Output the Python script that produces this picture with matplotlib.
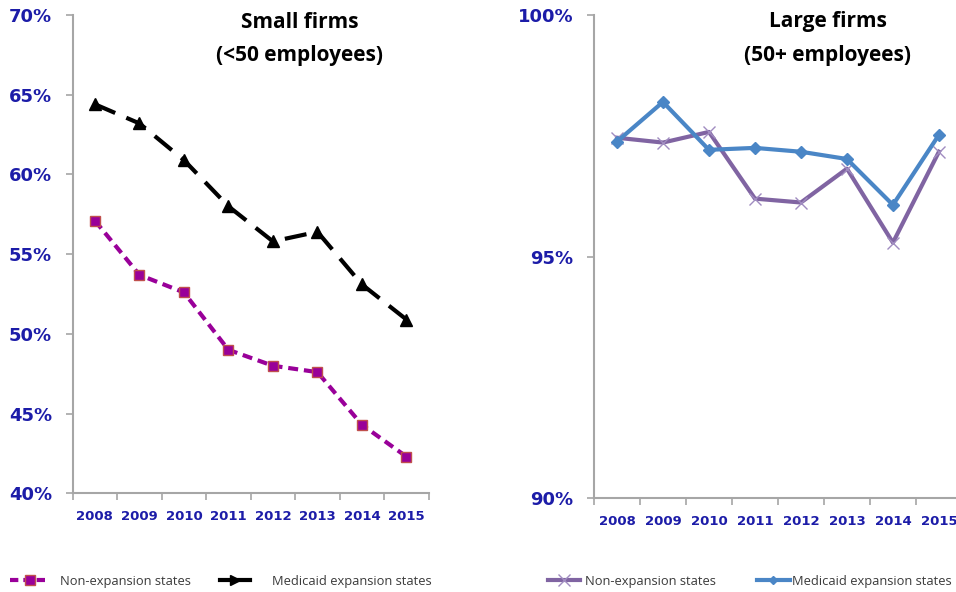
import matplotlib.pyplot as plt
import numpy as np
from matplotlib.lines import Line2D
from matplotlib.ticker import FuncFormatter

# Data
years = ['2008', '2009', '2010', '2011', '2012', '2013', '2014', '2015']
small_non = [57.1, 53.7, 52.6, 49.0, 48.0, 47.6, 44.3, 42.3]
small_exp = [64.4, 63.2, 60.9, 58.0, 55.8, 56.4, 53.1, 50.9]
large_non = [97.46, 97.36, 97.58, 96.20, 96.12, 96.82, 95.29, 97.17]
large_exp = [97.38, 98.20, 97.21, 97.25, 97.17, 97.02, 96.07, 97.52]

tick_blue = '#1c1ca8'
axis_grey = '#a6a6a6'

fig = plt.figure(figsize=(9.56, 5.92), dpi=100)
ax1 = fig.add_axes([0.0760, 0.1667, 0.3724, 0.808])
ax2 = fig.add_axes([0.6213, 0.1583, 0.3849, 0.8164])

x = np.arange(len(years))


def style_axis(ax, ylo, yhi, step):
    ax.set_xlim(-0.5, len(years) - 0.5)
    ax.set_ylim(ylo, yhi)
    ax.set_yticks(np.arange(ylo, yhi + 0.01, step))
    ax.yaxis.set_major_formatter(FuncFormatter(lambda v, p: '%d%%' % round(v)))
    ax.set_xticks(x)
    ax.set_xticklabels(years)
    ax.set_xticks(np.arange(-0.5, len(years), 1.0), minor=True)
    ax.tick_params(axis='x', which='major', length=0, pad=12,
                   labelsize=9.5, labelcolor=tick_blue)
    ax.tick_params(axis='x', which='minor', length=5, color=axis_grey, width=1.2)
    ax.tick_params(axis='y', length=5, color=axis_grey, width=1.2, pad=10,
                   labelsize=13, labelcolor=tick_blue)
    for lab in ax.get_xticklabels() + ax.get_yticklabels():
        lab.set_fontweight('bold')
    for s in ['top', 'right']:
        ax.spines[s].set_visible(False)
    for s in ['left', 'bottom']:
        ax.spines[s].set_color(axis_grey)
        ax.spines[s].set_linewidth(1.5)


# Small firms
ax1.plot(x, small_non, color='#990099', lw=3, ls=(0, (2.4, 1.4)),
         marker='s', ms=7, mfc='#990099', mec='#c0504d', mew=1, clip_on=False)
ax1.plot(x, small_exp, color='black', lw=3, ls=(0, (5.3, 2.9)),
         marker='^', ms=8, mfc='black', mec='black', clip_on=False)
style_axis(ax1, 40, 70, 5)

# Large firms
ax2.plot(x, large_non, color='#8064a2', lw=3, marker='x', ms=9, mew=1,
         mec='#a08cc0', clip_on=False)
ax2.plot(x, large_exp, color='#4a86c6', lw=3, marker='D', ms=6, clip_on=False)
style_axis(ax2, 90, 100, 5)

# Panel titles
title_kw = dict(ha='center', va='center', fontsize=15, fontweight='bold',
                family='Open Sans')
fig.text(300 / 956, 1 - 22 / 592, 'Small firms', **title_kw)
fig.text(300 / 956, 1 - 55 / 592, '(<50 employees)', **title_kw)
fig.text(828 / 956, 1 - 22 / 592, 'Large firms', **title_kw)
fig.text(828 / 956, 1 - 55 / 592, '(50+ employees)', **title_kw)

# Legends, one entry each so they sit where the reference puts them
leg_font = {'size': 9.3, 'family': 'Open Sans'}
entries = [
    (Line2D([], [], color='#990099', lw=3, ls=(0, (2, 1.2)), marker='s', ms=7,
            mfc='#990099', mec='#c0504d'), 10, 3.1, 0.8),
    (Line2D([], [], color='black', lw=3, marker='>', ms=7, markevery=[1]),
     220, 2.3, 1.7),
    (Line2D([], [], color='#8064a2', lw=3, marker='x', ms=9, mec='#a08cc0'),
     548, 2.5, 0.35),
    (Line2D([], [], color='#4a86c6', lw=3, marker='D', ms=4), 757, 2.55, 0.15),
]
labels = ['Non-expansion states', 'Medicaid expansion states',
          'Non-expansion states', 'Medicaid expansion states']
for (h, x0, hl, pad), lab in zip(entries, labels):
    leg = fig.legend([h], [lab], loc='center left',
                     bbox_to_anchor=(x0 / 956, 1 - 581 / 592), frameon=False,
                     prop=leg_font, handlelength=hl, handletextpad=pad,
                     borderaxespad=0, borderpad=0)
    for t in leg.get_texts():
        t.set_color('#3a3a3a')

fig.savefig('out.png', dpi=100)
